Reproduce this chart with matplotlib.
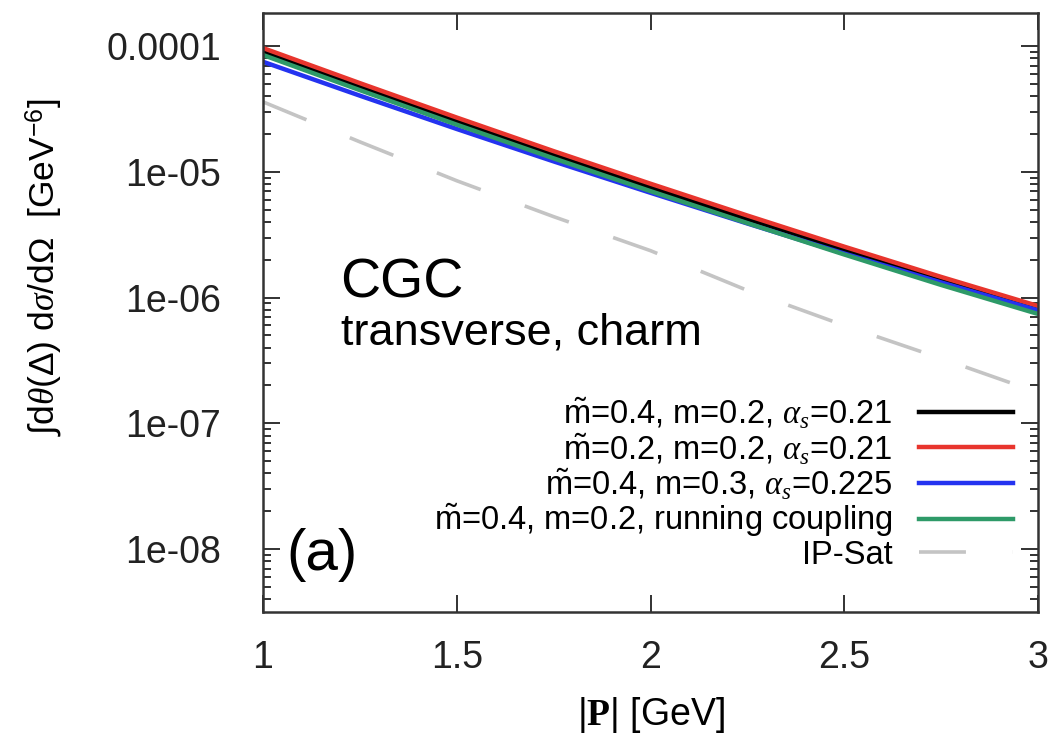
import numpy as np
import matplotlib
matplotlib.use("Agg")
import matplotlib.pyplot as plt
from matplotlib.ticker import FixedLocator, LogLocator, NullFormatter

plt.rcParams['font.family'] = ['Liberation Sans', 'DejaVu Sans']
plt.rcParams['mathtext.fontset'] = 'custom'
plt.rcParams['mathtext.rm'] = 'Liberation Sans'
plt.rcParams['mathtext.it'] = 'Liberation Serif:italic'
plt.rcParams['mathtext.bf'] = 'Liberation Serif:bold'

# |P| grid in GeV
P = [1.0, 1.25, 1.5, 1.75, 2.0, 2.25, 2.5, 2.75, 3.0]

# cross sections [GeV^-6]
cgc_m04_m02 = [8.99e-5, 4.73e-5, 2.52e-5, 1.36e-5, 7.50e-6, 4.19e-6, 2.37e-6, 1.36e-6, 8.00e-7]
cgc_m02_m02 = [9.64e-5, 5.07e-5, 2.70e-5, 1.46e-5, 8.04e-6, 4.49e-6, 2.54e-6, 1.46e-6, 8.57e-7]
cgc_m04_m03 = [7.50e-5, 4.03e-5, 2.19e-5, 1.21e-5, 6.81e-6, 3.88e-6, 2.24e-6, 1.32e-6, 7.91e-7]
cgc_running = [8.49e-5, 4.46e-5, 2.37e-5, 1.28e-5, 7.02e-6, 3.91e-6, 2.20e-6, 1.26e-6, 7.41e-7]
ipsat = [3.60e-5, 1.73e-5, 8.49e-6, 4.40e-6, 2.36e-6, 1.14e-6, 6.00e-7, 3.28e-7, 1.76e-7]

labels = [r'$\tilde{\mathrm{m}}$=0.4, m=0.2, $\alpha_s$=0.21',
          r'$\tilde{\mathrm{m}}$=0.2, m=0.2, $\alpha_s$=0.21',
          r'$\tilde{\mathrm{m}}$=0.4, m=0.3, $\alpha_s$=0.225',
          r'$\tilde{\mathrm{m}}$=0.4, m=0.2, running coupling',
          'IP-Sat']

ytick_vals = [1e-4, 1e-5, 1e-6, 1e-7, 1e-8]
ytick_labels = ['0.0001', '1e-05', '1e-06', '1e-07', '1e-08']
xtick_vals = [1, 1.5, 2, 2.5, 3]
xtick_labels = ['1', '1.5', '2', '2.5', '3']

fig = plt.figure(figsize=(10.58, 7.45), dpi=100)
ax = fig.add_axes([0.2486, 0.1785, 0.7325, 0.804])

lw = 3.2
ax.plot(P, cgc_m04_m02, color='black', lw=lw, label=labels[0])
ax.plot(P, cgc_m02_m02, color='#e8352d', lw=lw, label=labels[1])
ax.plot(P, cgc_m04_m03, color='#2433f0', lw=lw, label=labels[2])
ax.plot(P, cgc_running, color='#2e9a68', lw=lw, label=labels[3])
ax.plot(P, ipsat, color='#c4c4c4', lw=2.6, dashes=(13, 13), label=labels[4])

ax.set_yscale('log')
ax.set_xlim(1, 3)
ax.set_ylim(3.16e-9, 1.83e-4)

ax.yaxis.set_major_locator(FixedLocator(ytick_vals))
ax.set_yticklabels(ytick_labels)
ax.yaxis.set_minor_locator(LogLocator(base=10, subs=np.arange(2, 10), numticks=20))
ax.yaxis.set_minor_formatter(NullFormatter())
ax.set_xticks(xtick_vals)
ax.set_xticklabels(xtick_labels)

ax.tick_params(which='both', direction='in', top=True, right=True, colors='#222222',
               labelsize=27, width=1.3)
ax.tick_params(which='major', length=12)
ax.tick_params(which='minor', length=6)
ax.tick_params(axis='y', pad=30)
ax.tick_params(axis='x', pad=20)
for s in ax.spines.values():
    s.set_linewidth(1.8)
    s.set_color('#333333')

ax.set_xlabel(r'|$\mathbf{P}$| [GeV]', fontsize=27, labelpad=14)
ax.set_ylabel(r'$\int$d$\theta$($\Delta$) d$\sigma$/d$\Omega$  [GeV$^{-6}$]', fontsize=25.5)
ax.yaxis.set_label_coords(-0.255, 0.576)

ax.text(0.1, 0.505, 'CGC', transform=ax.transAxes, fontsize=40, va='bottom')
ax.text(0.1, 0.5, 'transverse, charm', transform=ax.transAxes, fontsize=32.5, va='top')
ax.text(0.03, 0.07, '(a)', transform=ax.transAxes, fontsize=42)

leg = ax.legend(loc='lower right', bbox_to_anchor=(0.985, 0.047), frameon=False,
                markerfirst=False, fontsize=23.5, handlelength=2.9, handletextpad=0.8,
                labelspacing=0.02, borderaxespad=0)
for t in leg.get_texts():
    t.set_ha('right')

fig.savefig('out.png', dpi=100)
